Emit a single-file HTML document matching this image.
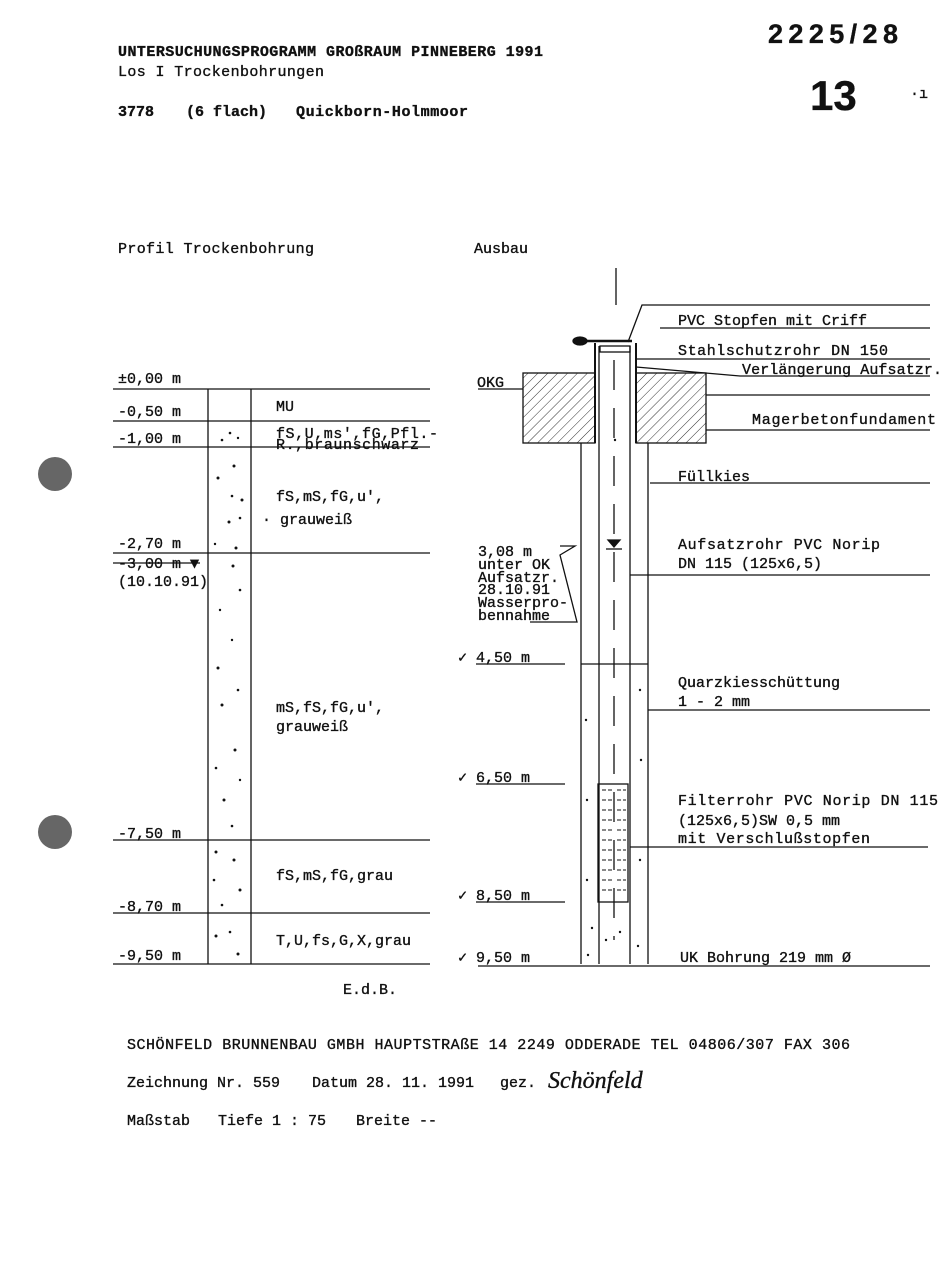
<!DOCTYPE html>
<html><head><meta charset="utf-8"><style>
html,body{margin:0;padding:0;background:#fff}
svg{display:block}
text{font-family:"Liberation Mono",monospace;fill:#111;font-size:15px;stroke:#111;stroke-width:0.35}
.b{font-weight:bold}
</style></head><body>
<svg width="947" height="1277" viewBox="0 0 947 1277" xmlns="http://www.w3.org/2000/svg">
<defs>
<pattern id="h" width="7" height="7" patternUnits="userSpaceOnUse" patternTransform="rotate(45)">
<line x1="0" y1="0" x2="0" y2="7" stroke="#333" stroke-width="1"/></pattern>
</defs>
<g stroke="#111" fill="none" stroke-width="1.3">
<text x="118" y="56" class="b" font-size="14" textLength="425">UNTERSUCHUNGSPROGRAMM GROßRAUM PINNEBERG 1991</text>
<text x="118" y="76" font-size="14" textLength="206">Los I Trockenbohrungen</text>
<text x="118" y="116" class="b" font-size="14">3778</text>
<text x="186" y="116" class="b" font-size="14">(6 flach)</text>
<text x="296" y="116" class="b" font-size="14" textLength="172">Quickborn-Holmmoor</text>
<text x="768" y="43" style="font-family:'Liberation Sans',sans-serif;font-weight:bold;font-size:27px" textLength="130">2225/28</text>
<text x="810" y="110" style="font-family:'Liberation Sans',sans-serif;font-weight:bold;font-size:42px">13</text>
<text x="910" y="98" font-size="12">·ı</text>

<text x="118" y="253" textLength="196">Profil Trockenbohrung</text>
<text x="474" y="253">Ausbau</text>

<line x1="113" y1="389" x2="430" y2="389"/>
<line x1="113" y1="421" x2="430" y2="421"/>
<line x1="113" y1="447" x2="430" y2="447"/>
<line x1="113" y1="553" x2="430" y2="553"/>
<line x1="113" y1="563" x2="200" y2="563"/>
<line x1="113" y1="840" x2="430" y2="840"/>
<line x1="113" y1="913" x2="430" y2="913"/>
<line x1="113" y1="964" x2="430" y2="964"/>
<line x1="208" y1="389" x2="208" y2="964"/>
<line x1="251" y1="389" x2="251" y2="964"/>
<g>
<text x="118" y="383">±0,00 m</text>
<text x="118" y="416">-0,50 m</text>
<text x="118" y="443">-1,00 m</text>
<text x="118" y="548">-2,70 m</text>
<text x="118" y="568">-3,00 m ▼</text>
<text x="118" y="586">(10.10.91)</text>
<text x="118" y="838">-7,50 m</text>
<text x="118" y="911">-8,70 m</text>
<text x="118" y="960">-9,50 m</text>
<text x="276" y="411">MU</text>
<text x="276" y="438" textLength="162">fS,U,ms',fG,Pfl.-</text>
<text x="276" y="449" textLength="143">R.,braunschwarz</text>
<text x="276" y="501">fS,mS,fG,u',</text>
<text x="262" y="524">· grauweiß</text>
<text x="276" y="712">mS,fS,fG,u',</text>
<text x="276" y="731">grauweiß</text>
<text x="276" y="880">fS,mS,fG,grau</text>
<text x="276" y="945">T,U,fs,G,X,grau</text>
<text x="343" y="994">E.d.B.</text>
</g>
<g fill="#111" stroke="none">
<circle cx="230" cy="433" r="1.3"/><circle cx="222" cy="440" r="1.3"/><circle cx="238" cy="438" r="1.2"/>
<circle cx="234" cy="466" r="1.5"/><circle cx="218" cy="478" r="1.5"/><circle cx="232" cy="496" r="1.3"/><circle cx="242" cy="500" r="1.5"/>
<circle cx="229" cy="522" r="1.5"/><circle cx="240" cy="518" r="1.3"/><circle cx="215" cy="544" r="1.2"/><circle cx="236" cy="548" r="1.5"/>
<circle cx="233" cy="566" r="1.5"/><circle cx="240" cy="590" r="1.3"/><circle cx="220" cy="610" r="1.2"/><circle cx="232" cy="640" r="1.2"/>
<circle cx="218" cy="668" r="1.5"/><circle cx="238" cy="690" r="1.3"/><circle cx="222" cy="705" r="1.5"/><circle cx="235" cy="750" r="1.5"/>
<circle cx="216" cy="768" r="1.3"/><circle cx="240" cy="780" r="1.2"/><circle cx="224" cy="800" r="1.5"/><circle cx="232" cy="826" r="1.3"/>
<circle cx="216" cy="852" r="1.5"/><circle cx="234" cy="860" r="1.5"/><circle cx="214" cy="880" r="1.3"/><circle cx="240" cy="890" r="1.5"/>
<circle cx="222" cy="905" r="1.3"/><circle cx="230" cy="932" r="1.3"/><circle cx="216" cy="936" r="1.5"/><circle cx="238" cy="954" r="1.5"/>
</g>

<line x1="616" y1="268" x2="616" y2="305"/>
<rect x="523" y="373" width="72" height="70" fill="url(#h)"/>
<rect x="636" y="373" width="70" height="70" fill="url(#h)"/>
<line x1="478" y1="389" x2="523" y2="389"/>
<line x1="595" y1="343" x2="595" y2="443" stroke-width="2"/>
<line x1="636" y1="343" x2="636" y2="443" stroke-width="2"/>
<line x1="582" y1="341" x2="632" y2="341" stroke-width="2.5"/>
<ellipse cx="580" cy="341" rx="7" ry="4" fill="#111"/>
<rect x="600" y="346" width="30" height="6"/>
<line x1="599" y1="346" x2="599" y2="964"/>
<line x1="630" y1="346" x2="630" y2="964"/>
<line x1="614" y1="360" x2="614" y2="940" stroke-dasharray="30,18"/>
<line x1="581" y1="443" x2="581" y2="964"/>
<line x1="648" y1="443" x2="648" y2="964"/>
<line x1="581" y1="664" x2="648" y2="664"/>
<rect x="598" y="784" width="30" height="118"/>
<g stroke-width="1" stroke-dasharray="4,2">
<line x1="602" y1="790" x2="612" y2="790"/><line x1="617" y1="790" x2="626" y2="790"/>
<line x1="602" y1="800" x2="612" y2="800"/><line x1="617" y1="800" x2="626" y2="800"/>
<line x1="602" y1="810" x2="612" y2="810"/><line x1="617" y1="810" x2="626" y2="810"/>
<line x1="602" y1="820" x2="612" y2="820"/><line x1="617" y1="820" x2="626" y2="820"/>
<line x1="602" y1="830" x2="612" y2="830"/><line x1="617" y1="830" x2="626" y2="830"/>
<line x1="602" y1="840" x2="612" y2="840"/><line x1="617" y1="840" x2="626" y2="840"/>
<line x1="602" y1="850" x2="612" y2="850"/><line x1="617" y1="850" x2="626" y2="850"/>
<line x1="602" y1="860" x2="612" y2="860"/><line x1="617" y1="860" x2="626" y2="860"/>
<line x1="602" y1="870" x2="612" y2="870"/><line x1="617" y1="870" x2="626" y2="870"/>
<line x1="602" y1="880" x2="612" y2="880"/><line x1="617" y1="880" x2="626" y2="880"/>
<line x1="602" y1="890" x2="612" y2="890"/><line x1="617" y1="890" x2="626" y2="890"/>
</g>
<path d="M608 540 L620 540 L614 547 Z" fill="#111"/>
<line x1="606" y1="549" x2="622" y2="549"/>
<path d="M628 342 L642 305 L930 305"/>
<line x1="660" y1="328" x2="930" y2="328"/>
<line x1="636" y1="359" x2="930" y2="359"/>
<path d="M636 367 L740 376 L930 376"/>
<line x1="706" y1="395" x2="930" y2="395"/>
<line x1="706" y1="430" x2="930" y2="430"/>
<line x1="650" y1="483" x2="930" y2="483"/>
<line x1="630" y1="575" x2="930" y2="575"/>
<line x1="648" y1="710" x2="930" y2="710"/>
<line x1="630" y1="847" x2="928" y2="847"/>
<line x1="478" y1="966" x2="930" y2="966"/>
<line x1="476" y1="664" x2="565" y2="664"/>
<line x1="476" y1="784" x2="565" y2="784"/>
<line x1="476" y1="902" x2="565" y2="902"/>
<path d="M560 546 L575 546 L560 555 L577 622 L530 622"/>
<g font-size="15">
<text x="678" y="325">PVC Stopfen mit Criff</text>
<text x="678" y="355" textLength="210">Stahlschutzrohr DN 150</text>
<text x="742" y="374" textLength="200">Verlängerung Aufsatzr.</text>
<text x="752" y="424" textLength="184">Magerbetonfundament</text>
<text x="678" y="481">Füllkies</text>
<text x="678" y="549" textLength="202">Aufsatzrohr PVC Norip</text>
<text x="678" y="568">DN 115 (125x6,5)</text>
<text x="678" y="687">Quarzkiesschüttung</text>
<text x="678" y="706">1 - 2 mm</text>
<text x="678" y="805" textLength="260">Filterrohr PVC Norip DN 115</text>
<text x="678" y="825">(125x6,5)SW 0,5 mm</text>
<text x="678" y="843" textLength="192">mit Verschlußstopfen</text>
<text x="680" y="962">UK Bohrung 219 mm Ø</text>
<text x="477" y="387" font-size="14">OKG</text>
<text x="458" y="662">✓ 4,50 m</text>
<text x="458" y="782">✓ 6,50 m</text>
<text x="458" y="900">✓ 8,50 m</text>
<text x="458" y="962">✓ 9,50 m</text>
<g font-size="14">
<text x="478" y="556">3,08 m</text>
<text x="478" y="569">unter OK</text>
<text x="478" y="582">Aufsatzr.</text>
<text x="478" y="594">28.10.91</text>
<text x="478" y="607">Wasserpro-</text>
<text x="478" y="620">bennahme</text>
</g>
</g>
<g fill="#111" stroke="none">
<circle cx="592" cy="928" r="1.2"/><circle cx="606" cy="940" r="1.2"/><circle cx="620" cy="932" r="1.2"/><circle cx="638" cy="946" r="1.2"/>
<circle cx="588" cy="955" r="1.2"/><circle cx="640" cy="690" r="1.2"/><circle cx="586" cy="720" r="1.2"/><circle cx="641" cy="760" r="1.2"/>
<circle cx="587" cy="800" r="1.2"/><circle cx="640" cy="860" r="1.2"/><circle cx="587" cy="880" r="1.2"/><circle cx="615" cy="440" r="1.2"/>
</g>

<g font-size="14">
<text x="127" y="1049" textLength="723">SCHÖNFELD BRUNNENBAU GMBH HAUPTSTRAßE 14 2249 ODDERADE TEL 04806/307 FAX 306</text>
<text x="127" y="1087">Zeichnung Nr. 559</text>
<text x="312" y="1087">Datum 28. 11. 1991</text>
<text x="500" y="1087">gez.</text>
<text x="548" y="1088" style="font-family:'Liberation Serif',serif;font-style:italic;font-size:24px">Schönfeld</text>
<text x="127" y="1125">Maßstab</text>
<text x="218" y="1125">Tiefe 1 : 75</text>
<text x="356" y="1125">Breite --</text>
</g>
<circle cx="55" cy="474" r="17" fill="#666" stroke="none"/>
<circle cx="55" cy="832" r="17" fill="#666" stroke="none"/>
</g>
</svg>
</body></html>
